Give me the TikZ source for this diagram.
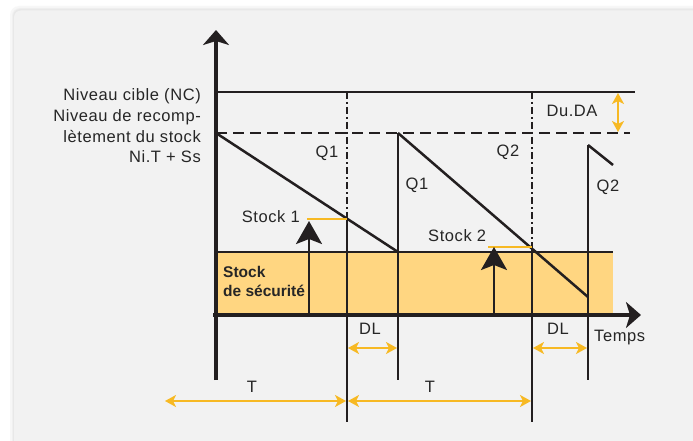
\documentclass[tikz,border=0pt]{standalone}
\usepackage{fontspec}
\setmainfont{Liberation Sans}[LetterSpace=3.5]
\newfontfamily\boldface{Liberation Sans}[LetterSpace=0]
\usetikzlibrary{arrows.meta}
\definecolor{panel}{HTML}{F2F2F2}
\definecolor{ink}{HTML}{231F20}
\definecolor{txt}{HTML}{262626}
\definecolor{band}{HTML}{FFD681}
\definecolor{gold}{HTML}{F7B923}
\tikzset{
  lbl/.style={text=txt, inner sep=0pt, font=\fontsize{16.5}{20}\selectfont},
  boldlbl/.style={text=txt, inner sep=0pt, font=\boldface\fontsize{15.5}{19}\selectfont\bfseries, align=left},
  thin/.style={draw=ink, line width=2.5pt},
  axis/.style={draw=ink, line width=4.5pt, -{Stealth[length=15pt,width=26pt,inset=4pt]}},
  dashline/.style={draw=ink, line width=2.5pt, dash pattern=on 11pt off 6pt},
  dotline/.style={draw=ink, line width=2.5pt, dash pattern=on 7pt off 3pt on 2pt off 3pt},
  goldline/.style={draw=gold, line width=2.4pt},
  goldarrow/.style={draw=gold, line width=1.8pt, {Stealth[length=11pt,width=12pt,inset=3pt]}-{Stealth[length=11pt,width=12pt,inset=3pt]}},
  uparrow/.style={draw=ink, line width=2.5pt, -{Stealth[length=23pt,width=26pt,inset=5pt]}},
}
\begin{document}
\begin{tikzpicture}[x=1pt,y=-1pt]
\useasboundingbox (0,0) rectangle (693,441);
\fill[white] (0,0) rectangle (693,441);
\begin{scope}
\clip (0,0) rectangle (693,441);
\fill[black!3, rounded corners=9] (10,6) rectangle (720,470);
\fill[black!6, rounded corners=8] (12,8) rectangle (720,470);
\fill[black!9, rounded corners=7] (13,9) rectangle (720,470);
\fill[panel, rounded corners=7] (14,10.5) rectangle (720,470);
\end{scope}

% key coordinates
\coordinate (O) at (216,315);
\coordinate (ybot) at (216,380);
\coordinate (ytop) at (216,30);
\coordinate (xl) at (213,315);
\coordinate (xr) at (641,315);
\coordinate (nc0) at (216,92);
\coordinate (nc1) at (635,92);
\coordinate (rc0) at (216,133);
\coordinate (rc1) at (630,133);
\coordinate (bandTL) at (216,252);
\coordinate (bandTR) at (613,252);
\coordinate (bandBR) at (613,315);
% verticals
\coordinate (a0) at (347,92);
\coordinate (a1) at (347,218.7);
\coordinate (a2) at (347,422);
\coordinate (b0) at (398,133);
\coordinate (b1) at (398,252);
\coordinate (b2) at (398,380);
\coordinate (c0) at (532,92);
\coordinate (c1) at (532,248.7);
\coordinate (c2) at (532,422);
\coordinate (d0) at (588,145);
\coordinate (d1) at (588,297);
\coordinate (d2) at (588,380);
\coordinate (e1) at (613,165);
% stock levels
\coordinate (s1a) at (307,218.7);
\coordinate (s2a) at (488,247);
\coordinate (s2b) at (532,247);
\coordinate (ar1a) at (309,315);
\coordinate (ar1b) at (309,221);
\coordinate (ar2a) at (494,315);
\coordinate (ar2b) at (494,247);
% gold arrows
\coordinate (du0) at (618,93);
\coordinate (du1) at (618,132);
\coordinate (dl1a) at (348,348);
\coordinate (dl1b) at (397,348);
\coordinate (dl2a) at (533,348);
\coordinate (dl2b) at (587,348);
\coordinate (t1a) at (165,401);
\coordinate (t1b) at (346,401);
\coordinate (t2a) at (348,401);
\coordinate (t2b) at (531,401);

% safety stock band
\fill[band] (bandTL) rectangle (bandBR);
\draw[thin] (bandTL) -- (bandTR);

% levels
\draw[thin] (nc0) -- (nc1);
\draw[dashline] (rc0) -- (rc1);

% verticals
\draw[dotline] (a0) -- (a1);
\draw[thin] (a1) -- (a2);
\draw[thin] (b0) -- (b2);
\draw[dotline] (c0) -- (c1);
\draw[thin] (c1) -- (c2);
\draw[thin] (d0) -- (d2);

% sawtooth
\draw[thin] (rc0) -- (b1);
\draw[thin] (b0) -- (d1);
\draw[thin] (d0) -- (e1);

% stock markers
\draw[goldline] (s1a) -- (a1);
\draw[goldline] (s2a) -- (s2b);
\draw[uparrow] (ar1a) -- (ar1b);
\draw[uparrow] (ar2a) -- (ar2b);

% axes
\draw[axis] (ybot) -- (ytop);
\draw[axis] (xl) -- (xr);

% gold dimension arrows
\draw[goldarrow] (du0) -- (du1);
\draw[goldarrow] (dl1a) -- (dl1b);
\draw[goldarrow] (dl2a) -- (dl2b);
\draw[goldarrow] (t1a) -- (t1b);
\draw[goldarrow] (t2a) -- (t2b);

% labels
\node[lbl, anchor=base east] (lnc) at (201,100.7) {Niveau cible (NC)};
\node[lbl, anchor=base east] (lr1) at (201,121.7) {Niveau de recomp-};
\node[lbl, anchor=base east] (lr2) at (201,142.2) {lètement du stock};
\node[lbl, anchor=base east] (lr3) at (201,162.7) {Ni.T + Ss};
\node[lbl] (q1a) at (327,153.5) {Q1};
\node[lbl] (q1b) at (417,185) {Q1};
\node[lbl] (q2a) at (508,152) {Q2};
\node[lbl] (q2b) at (608,187) {Q2};
\node[lbl] (duda) at (572,111) {Du.DA};
\node[lbl, anchor=base east] (st1) at (300,222.5) {Stock 1};
\node[lbl, anchor=base west] (st2) at (428,241.5) {Stock 2};
\node[boldlbl, anchor=north west] (ss) at (223,266.5) {Stock\\de sécurité};
\node[lbl] (dl1) at (370,329) {DL};
\node[lbl] (dl2) at (558,329) {DL};
\node[lbl, anchor=base west] (temps) at (594,341.5) {Temps};
\node[lbl] (tt1) at (252,387) {T};
\node[lbl] (tt2) at (430,387) {T};
\end{tikzpicture}
\end{document}
